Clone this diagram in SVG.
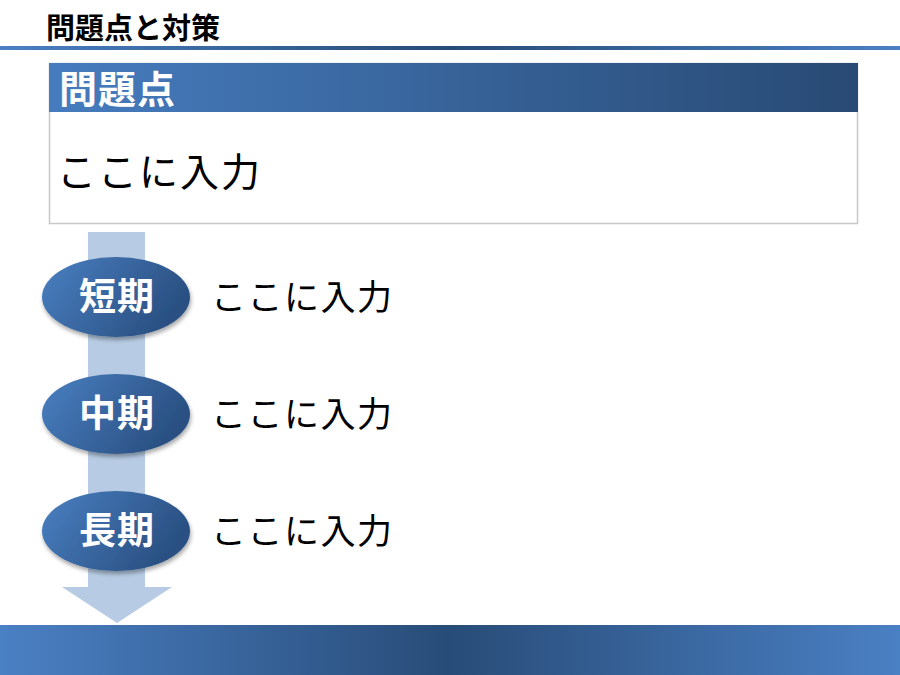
<svg xmlns="http://www.w3.org/2000/svg" width="900" height="675" viewBox="0 0 900 675">
<defs>
<linearGradient id="bar" x1="0" y1="0" x2="1" y2="0">
<stop offset="0" stop-color="#4A80C4"/>
<stop offset="0.5" stop-color="#284C78"/>
<stop offset="1" stop-color="#4A80C4"/>
</linearGradient>
<linearGradient id="hdr" x1="0" y1="0" x2="1" y2="0">
<stop offset="0" stop-color="#467CBE"/>
<stop offset="1" stop-color="#284A74"/>
</linearGradient>
<linearGradient id="ell" x1="0" y1="0" x2="1" y2="0.4">
<stop offset="0" stop-color="#4A80C2"/>
<stop offset="1" stop-color="#2A5082"/>
</linearGradient>
<filter id="sh" x="-20%" y="-20%" width="140%" height="150%">
<feGaussianBlur in="SourceAlpha" stdDeviation="2"/>
<feOffset dx="1" dy="3"/>
<feComponentTransfer><feFuncA type="linear" slope="0.35"/></feComponentTransfer>
<feMerge><feMergeNode/><feMergeNode in="SourceGraphic"/></feMerge>
</filter>
</defs>
<style>
.jp{font-family:"Noto Sans CJK JP","Noto Sans CJK SC",sans-serif;}
.lbl{font-size:37px;font-weight:bold;fill:#fff;text-anchor:middle;letter-spacing:1px;}
.body{font-size:35px;fill:#000;letter-spacing:1.5px;}
</style>
<rect x="0" y="0" width="900" height="675" fill="#fff"/>
<g id="title">
<text class="jp" x="46" y="39" font-size="29" font-weight="bold" fill="#000">問題点と対策</text>
<rect x="0" y="46" width="900" height="4" fill="url(#bar)"/>
</g>
<g id="footer">
<rect x="0" y="625" width="900" height="50" fill="url(#bar)"/>
</g>
<g id="problem">
<rect x="49.5" y="63.5" width="808" height="160" fill="#fff" stroke="#C8C8C8" stroke-width="1.5"/>
<rect x="49" y="63" width="809" height="49" fill="url(#hdr)"/>
<text class="jp" x="59" y="103" font-size="38" font-weight="bold" fill="#fff" letter-spacing="1">問題点</text>
<text class="jp" x="57" y="186" font-size="39" fill="#000" letter-spacing="2">ここに入力</text>
</g>
<g id="connectors">
<polygon points="88,232 145,232 145,587 172,587 117,623 62,587 88,587" fill="#B7CCE4"/>
</g>
<g id="short">
<ellipse cx="116" cy="297" rx="74" ry="40" fill="url(#ell)" filter="url(#sh)"/>
<text class="jp lbl" x="117" y="310">短期</text>
<text class="jp body" x="211" y="310">ここに入力</text>
</g>
<g id="mid">
<ellipse cx="116" cy="414" rx="74" ry="40" fill="url(#ell)" filter="url(#sh)"/>
<text class="jp lbl" x="117" y="427">中期</text>
<text class="jp body" x="211" y="427">ここに入力</text>
</g>
<g id="long">
<ellipse cx="116" cy="531" rx="74" ry="40" fill="url(#ell)" filter="url(#sh)"/>
<text class="jp lbl" x="117" y="544">長期</text>
<text class="jp body" x="211" y="544">ここに入力</text>
</g>
</svg>
